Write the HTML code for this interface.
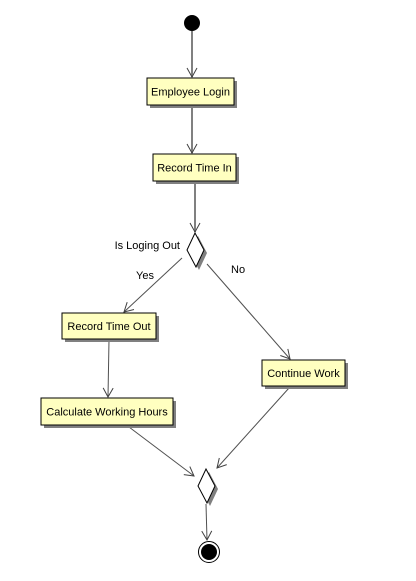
<!DOCTYPE html>
<html><head><meta charset="utf-8"><style>
html,body{margin:0;padding:0;background:#fff;}
svg{display:block}
text{font-family:"Liberation Sans",Arial,sans-serif;font-size:11px;fill:#000}
</style></head><body>
<svg width="416" height="581" viewBox="0 0 416 581" xmlns="http://www.w3.org/2000/svg">
<defs>
<marker id="a" markerWidth="12" markerHeight="12" refX="10" refY="6" orient="auto" markerUnits="userSpaceOnUse">
<path d="M1,1 L10,6 L1,11" fill="none" stroke="#404040" stroke-width="1"/>
</marker>
</defs>
<g stroke="#505050" stroke-width="1" fill="none">
<line x1="192" y1="31" x2="192" y2="77" stroke="#808080" stroke-width="2" marker-end="url(#a)"/>
<line x1="192" y1="106" x2="192" y2="153" stroke="#808080" stroke-width="2" marker-end="url(#a)"/>
<line x1="195" y1="182" x2="195" y2="232" stroke="#808080" stroke-width="2" marker-end="url(#a)"/>
<line x1="182" y1="258" x2="124" y2="312" marker-end="url(#a)"/>
<line x1="207" y1="264" x2="290" y2="359" marker-end="url(#a)"/>
<line x1="109" y1="340" x2="108" y2="397" marker-end="url(#a)"/>
<line x1="129" y1="427" x2="194" y2="476" marker-end="url(#a)"/>
<line x1="289" y1="388" x2="217" y2="468" marker-end="url(#a)"/>
<line x1="206" y1="504" x2="207" y2="540" marker-end="url(#a)"/>
</g>
<circle cx="192" cy="23" r="8" fill="#000"/>
<g>
<rect x="150" y="81" width="87" height="27" fill="#808080"/>
<rect x="147" y="78" width="87" height="27" fill="#ffffc0" stroke="#000"/>
<text x="190.5" y="95.5" text-anchor="middle">Employee Login</text>
<rect x="156" y="157" width="83" height="27" fill="#808080"/>
<rect x="153" y="154" width="83" height="27" fill="#ffffc0" stroke="#000"/>
<text x="194.5" y="171.5" text-anchor="middle">Record Time In</text>
<rect x="65" y="316" width="94" height="26" fill="#808080"/>
<rect x="62" y="313" width="94" height="26" fill="#ffffc0" stroke="#000"/>
<text x="109" y="330" text-anchor="middle">Record Time Out</text>
<rect x="265" y="363" width="83" height="26" fill="#808080"/>
<rect x="262" y="360" width="83" height="26" fill="#ffffc0" stroke="#000"/>
<text x="303.5" y="377" text-anchor="middle">Continue Work</text>
<rect x="44" y="401" width="132" height="27" fill="#808080"/>
<rect x="41" y="398" width="132" height="27" fill="#ffffc0" stroke="#000"/>
<text x="107" y="415.5" text-anchor="middle">Calculate Working Hours</text>
</g>
<polygon points="198,236 207,253 199,270 190,253" fill="#808080"/>
<polygon points="195,233 204,250 196,267 187,250" fill="#fff" stroke="#000"/>
<polygon points="209,472 218,489 210,506 201,489" fill="#808080"/>
<polygon points="206,469 215,486 207,503 198,486" fill="#fff" stroke="#000"/>
<text x="180" y="249" text-anchor="end">Is Loging Out</text>
<text x="136" y="279">Yes</text>
<text x="231" y="273">No</text>
<circle cx="209" cy="552" r="10.5" fill="#fff" stroke="#000"/>
<circle cx="209" cy="552" r="8" fill="#000"/>
</svg>
</body></html>
